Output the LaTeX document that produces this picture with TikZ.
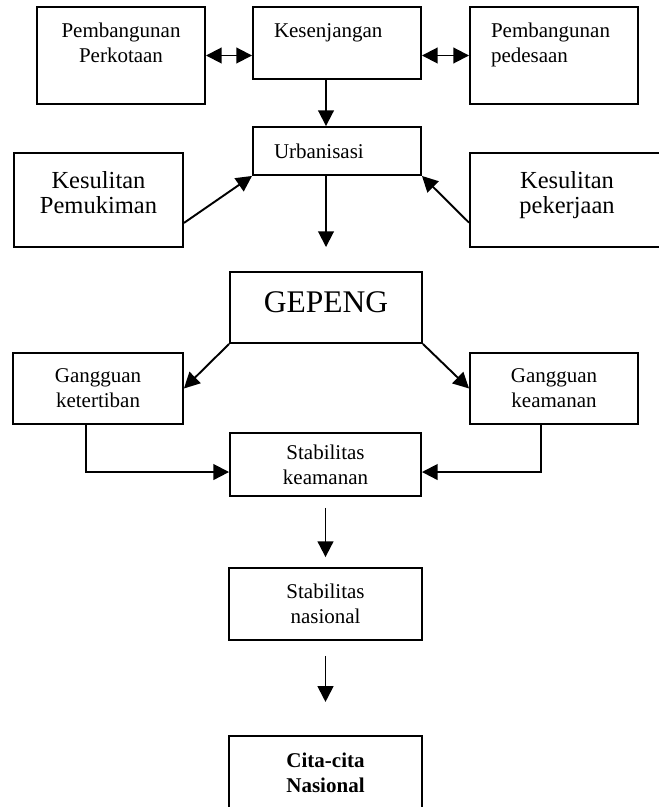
\documentclass[tikz,border=0pt]{standalone}
\usepackage{fontspec}
\setmainfont{Liberation Serif}
\usetikzlibrary{arrows.meta}

\tikzset{
  box/.style={draw, line width=1.1pt, inner sep=0pt, align=center,
    font=\fontsize{12}{14.3}\selectfont},
  leftbox/.style={box, align=left, text width=72pt, inner xsep=12pt},
  conn/.style={->, line width=1.1pt},
}

\begin{document}
\begin{tikzpicture}[x=0.5714pt, y=-0.5714pt, >={Triangle[length=9pt,width=9pt]}]
\useasboundingbox (0,0) rectangle (659,807);

% baris atas
\node[box, minimum width=96pt, minimum height=55.4pt] (kota) at (121,55.5) {Pembangunan\\Perkotaan\\ \mbox{}};
\node[leftbox, minimum height=41.1pt] (senjang) at (337,43) {Kesenjangan\\ \mbox{}};
\node[leftbox, minimum height=55.4pt] (desa) at (554,55.5) {Pembangunan\\pedesaan\\ \mbox{}};
\node[leftbox, minimum height=27.4pt] (urban) at (337,151) {Urbanisasi};
\node[box, minimum width=96.6pt, minimum height=53.7pt, font=\fontsize{14}{14.3}\selectfont] (mukim) at (98.5,200) {Kesulitan\\Pemukiman\\[-5.7pt]\mbox{}};
\node[box, minimum width=110.9pt, minimum height=53.7pt, font=\fontsize{14}{14.3}\selectfont] (kerja) at (567,200) {Kesulitan\\pekerjaan\\[-5.7pt]\mbox{}};

% tengah
\node[box, minimum width=109.7pt, minimum height=40.6pt, font=\fontsize{18}{21}\selectfont] (gepeng) at (326,307.5) {GEPENG\\[-14.7pt]\mbox{}};
\node[box, minimum width=97.1pt, minimum height=40.6pt] (tertib) at (98,388.5) {Gangguan\\ketertiban};
\node[box, minimum width=96pt, minimum height=40.6pt] (aman) at (554,388.5) {Gangguan\\keamanan};
\node[box, minimum width=109.1pt, minimum height=36pt] (stabaman) at (325.5,464.5) {Stabilitas\\keamanan};

% bawah
\node[box, minimum width=110.3pt, minimum height=41.1pt] (stabnas) at (325.5,604) {Stabilitas\\nasional};
\node[box, minimum width=110.3pt, minimum height=42.3pt, font=\bfseries\fontsize{12}{14.3}\selectfont] (cita) at (325.5,773) {Cita-cita\\Nasional};

\draw[<->, line width=1.1pt] (kota.east) -- (kota.east -| senjang.west);
\draw[<->, line width=1.1pt] (desa.west -| senjang.east) -- (desa.west);
\draw[conn] (senjang.south -| gepeng.north) -- (urban.north -| gepeng.north);
\draw[conn] (mukim.-15) -- (urban.south west);
\draw[conn] (kerja.193) -- (urban.south east);
\draw[conn, shorten >=13.7pt] (urban.south -| gepeng.north) -- (gepeng.north);
\draw[conn] (gepeng.south west) -- (tertib.east);
\draw[conn] (gepeng.south east) -- (aman.west);
\draw[conn] ([xshift=-6.9pt]tertib.south) |- ([yshift=-4.3pt]stabaman.west);
\draw[conn] ([xshift=-7.4pt]aman.south) |- ([yshift=-4.3pt]stabaman.east);
\draw[conn, shorten <=6.3pt, shorten >=5.7pt] (stabaman) -- (stabnas);
\draw[conn, shorten <=8.6pt, shorten >=18.9pt] (stabnas) -- (cita);
\end{tikzpicture}
\end{document}
